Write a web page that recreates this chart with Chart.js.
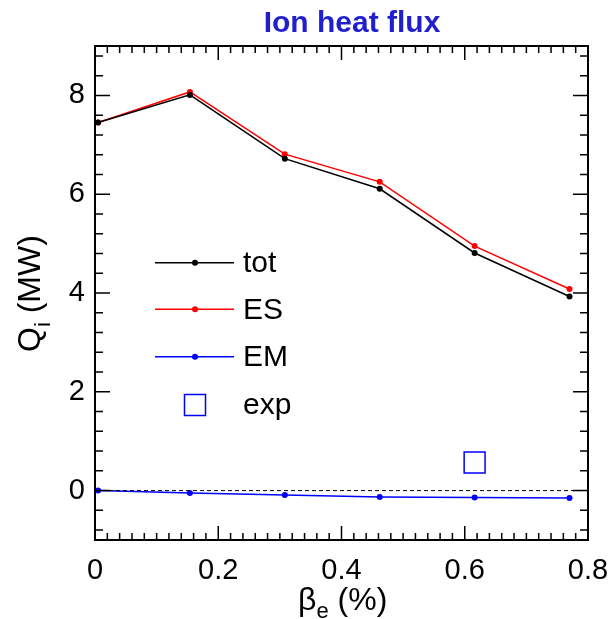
<!DOCTYPE html>
<html>
<head>
<meta charset="utf-8">
<script src="https://cdn.jsdelivr.net/npm/chart.js@4"></script>
<style>
  html, body { margin: 0; padding: 0; background: #fff; }
  #wrap { width: 611px; height: 619px; }
</style>
</head>
<body>
<div id="wrap"><canvas id="chart" width="611" height="619"></canvas></div>
<script>
// beta_e (%) scan values
const betaE = [0.005, 0.154, 0.308, 0.462, 0.616, 0.770];
const qTot = [7.45, 8.01, 6.72, 6.11, 4.81, 3.93];
const qES  = [7.45, 8.07, 6.81, 6.25, 4.95, 4.08];
const qEM  = [0.00, -0.05, -0.09, -0.13, -0.14, -0.15];
// experimental point
const expBeta = [0.616];
const expQ = [0.57];
// axes
const xTicks = [0, 0.2, 0.4, 0.6, 0.8];
const yTicks = [0, 2, 4, 6, 8];
const legendLabels = ['tot', 'ES', 'EM', 'exp'];

const FONT = "'Liberation Sans', Arial, Helvetica, sans-serif";
const BLUE = '#0000ff';
const RED = '#ff0000';

const toXY = (xs, ys) => xs.map((x, i) => ({ x: x, y: ys[i] }));

// frame, inward ticks on all four sides, titles and legend
const idlFrame = {
    id: 'idlFrame',
    afterDraw(chart) {
        const ctx = chart.ctx;
        const { left, right, top, bottom } = chart.chartArea;
        const xs = chart.scales.x, ys = chart.scales.y;
        ctx.save();
        ctx.strokeStyle = '#000';
        ctx.lineWidth = 2;
        ctx.strokeRect(left, top, right - left, bottom - top);

        ctx.lineWidth = 1.5;
        ctx.beginPath();
        for (let i = 0; i <= 40; i++) {
            const v = i * 0.02;
            const px = xs.getPixelForValue(v);
            const len = (i % 10 === 0) ? 14 : 7;
            ctx.moveTo(px, bottom); ctx.lineTo(px, bottom - len);
            ctx.moveTo(px, top); ctx.lineTo(px, top + len);
        }
        for (let i = -2; i <= 22; i++) {
            const v = i * 0.4;
            if (v < ys.min || v > ys.max) continue;
            const py = ys.getPixelForValue(v);
            const len = (i % 5 === 0) ? 15 : 8;
            ctx.moveTo(left, py); ctx.lineTo(left + len, py);
            ctx.moveTo(right, py); ctx.lineTo(right - len, py);
        }
        ctx.stroke();

        // title
        ctx.fillStyle = '#1f1fcf';
        ctx.font = 'bold 30px ' + FONT;
        ctx.textAlign = 'center';
        ctx.textBaseline = 'alphabetic';
        ctx.fillText('Ion heat flux', 352, 32);

        // x axis title: beta_e (%)
        ctx.fillStyle = '#000';
        ctx.textAlign = 'left';
        let x = 298;
        const xb = 610;
        ctx.font = '32px ' + FONT;
        ctx.fillText('\u03B2', x, xb);
        x += ctx.measureText('\u03B2').width;
        ctx.font = '22px ' + FONT;
        ctx.fillText('e', x, xb + 8);
        x += ctx.measureText('e').width;
        ctx.font = '32px ' + FONT;
        ctx.fillText(' (%)', x, xb);

        // y axis title: Q_i (MW)
        ctx.save();
        ctx.translate(40, 352);
        ctx.rotate(-Math.PI / 2);
        let t = 0;
        ctx.font = '32px ' + FONT;
        ctx.fillText('Q', t, 0);
        t += ctx.measureText('Q').width;
        ctx.font = '22px ' + FONT;
        ctx.fillText('i', t, 10);
        t += ctx.measureText('i').width;
        ctx.font = '32px ' + FONT;
        ctx.fillText(' (MW)', t, 0);
        ctx.restore();

        // legend inside the plot
        const rows = [262.7, 309.3, 356.7, 405];
        const cols = ['#000', RED, BLUE];
        ctx.font = '30px ' + FONT;
        ctx.textBaseline = 'middle';
        rows.forEach((ry, i) => {
            if (i < 3) {
                ctx.strokeStyle = cols[i];
                ctx.lineWidth = 1.5;
                ctx.beginPath();
                ctx.moveTo(155, ry); ctx.lineTo(234, ry);
                ctx.stroke();
                ctx.fillStyle = cols[i];
                ctx.beginPath();
                ctx.arc(195, ry, 3, 0, Math.PI * 2);
                ctx.fill();
            } else {
                ctx.strokeStyle = BLUE;
                ctx.lineWidth = 1.5;
                ctx.strokeRect(184.5, ry - 10.5, 21, 21);
            }
            ctx.fillStyle = '#000';
            ctx.fillText(legendLabels[i], 243, ry + 1);
        });
        ctx.restore();
    }
};

const ctx = document.getElementById('chart').getContext('2d');
new Chart(ctx, {
    type: 'scatter',
    data: {
        datasets: [
            {
                label: 'zero',
                data: [{ x: 0, y: 0 }, { x: 0.8, y: 0 }],
                showLine: true,
                borderColor: '#000',
                borderWidth: 1,
                borderDash: [4, 3],
                pointRadius: 0
            },
            {
                label: 'tot',
                data: toXY(betaE, qTot),
                showLine: true,
                borderColor: '#000',
                backgroundColor: '#000',
                borderWidth: 1.5,
                pointRadius: 3,
                pointBorderWidth: 0
            },
            {
                label: 'ES',
                data: toXY(betaE, qES),
                showLine: true,
                borderColor: RED,
                backgroundColor: RED,
                borderWidth: 1.5,
                pointRadius: 3,
                pointBorderWidth: 0
            },
            {
                label: 'EM',
                data: toXY(betaE, qEM),
                showLine: true,
                borderColor: BLUE,
                backgroundColor: BLUE,
                borderWidth: 1.5,
                pointRadius: 3,
                pointBorderWidth: 0
            },
            {
                label: 'exp',
                data: toXY(expBeta, expQ),
                showLine: false,
                pointStyle: 'rect',
                pointRadius: 14.8,
                borderColor: BLUE,
                backgroundColor: 'rgba(0,0,0,0)',
                pointBorderWidth: 1.5
            }
        ]
    },
    options: {
        responsive: false,
        animation: false,
        clip: false,
        layout: { padding: { top: 46, right: 23, left: 0, bottom: 0 } },
        plugins: {
            legend: { display: false },
            title: { display: false },
            tooltip: { enabled: false }
        },
        scales: {
            x: {
                type: 'linear',
                min: 0,
                max: 0.8,
                grid: { display: false, drawTicks: false },
                border: { display: false },
                afterBuildTicks: s => { s.ticks = xTicks.map(v => ({ value: v })); },
                afterFit: s => { s.height = 79; s.paddingLeft = 0; s.paddingRight = 0; },
                ticks: {
                    color: '#000',
                    font: { family: FONT, size: 29 },
                    padding: 14,
                    autoSkip: false,
                    maxRotation: 0,
                    callback: v => v === 0 ? '0' : v.toFixed(1)
                }
            },
            y: {
                type: 'linear',
                min: -1,
                max: 9,
                grid: { display: false, drawTicks: false },
                border: { display: false },
                afterBuildTicks: s => { s.ticks = yTicks.map(v => ({ value: v })); },
                afterFit: s => { s.width = 95; s.paddingTop = 0; s.paddingBottom = 0; },
                ticks: {
                    color: '#000',
                    font: { family: FONT, size: 29 },
                    padding: 10,
                    callback: v => String(v)
                }
            }
        }
    },
    plugins: [idlFrame]
});
</script>
</body>
</html>
